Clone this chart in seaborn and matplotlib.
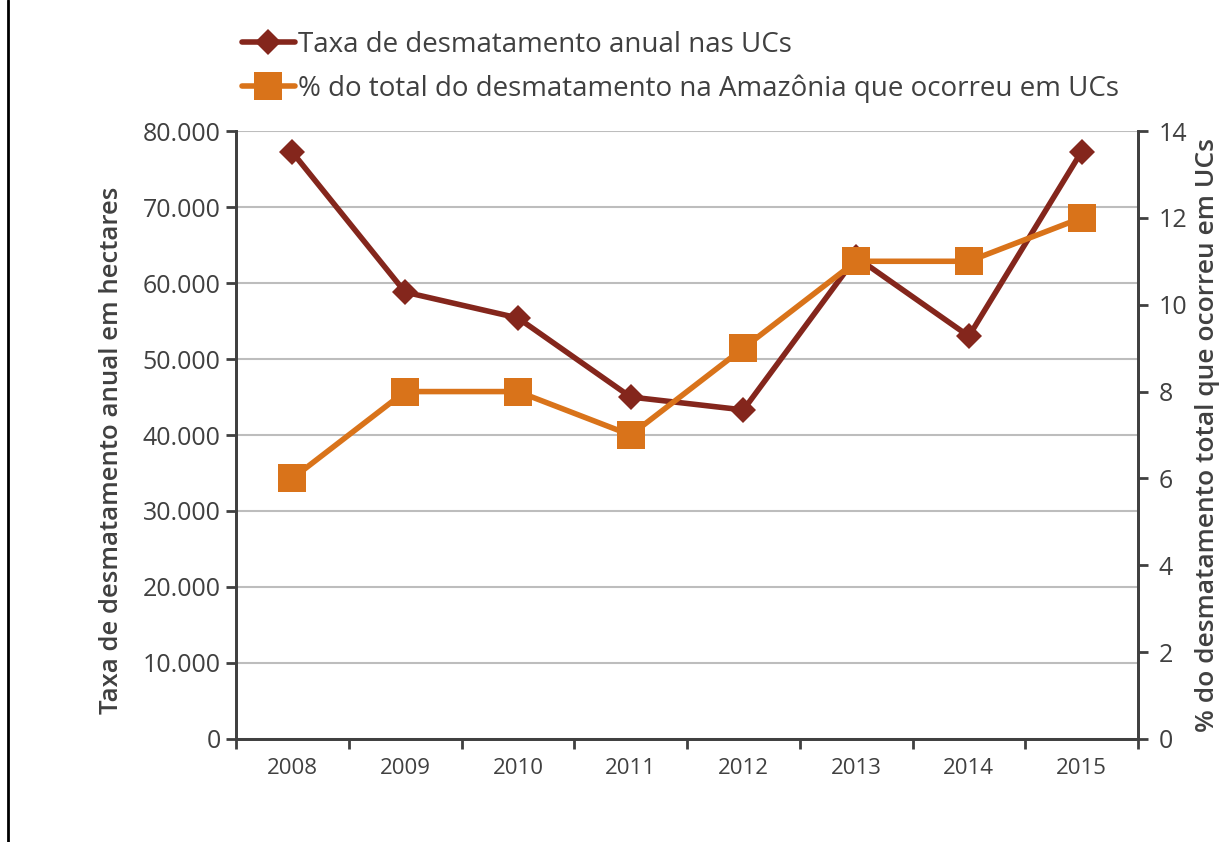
import matplotlib
matplotlib.use("Agg")
import matplotlib.pyplot as plt
import seaborn as sns
import pandas as pd
from matplotlib.lines import Line2D

years = ["2008", "2009", "2010", "2011", "2012", "2013", "2014", "2015"]
taxa_ha = [77200, 58800, 55400, 45000, 43300, 63400, 53000, 77300]
pct_ucs = [6, 8, 8, 7, 9, 11, 11, 12]
left_ticks = [0, 10000, 20000, 30000, 40000, 50000, 60000, 70000, 80000]
left_labels = ["0", "10.000", "20.000", "30.000", "40.000", "50.000", "60.000", "70.000", "80.000"]
right_ticks = [0, 2, 4, 6, 8, 10, 12, 14]

label1 = "Taxa de desmatamento anual nas UCs"
label2 = "% do total do desmatamento na Amazônia que ocorreu em UCs"
ylabel_left = "Taxa de desmatamento anual em hectares"
ylabel_right = "% do desmatamento total que ocorreu em UCs"

df = pd.DataFrame({"ano": years, "taxa": taxa_ha, "pct": pct_ucs})

sns.set_theme(style="white")
plt.rcParams["font.family"] = ["Open Sans", "DejaVu Sans"]

c1 = "#84261c"
c2 = "#d9731a"
txt = "#404040"

fig = plt.figure(figsize=(12.27, 8.42), dpi=100)
ax = fig.add_axes([236/1227, 1-739/842, (1138-236)/1227, (739-131)/842])
ax2 = ax.twinx()

sns.lineplot(data=df, x="ano", y="taxa", ax=ax, color=c1, lw=4, marker="D",
             markersize=13, markeredgewidth=0, sort=False, zorder=3)
sns.lineplot(data=df, x="ano", y="pct", ax=ax2, color=c2, lw=4, marker="s",
             markersize=20, markeredgewidth=0, sort=False, zorder=3)

ax.set_xlim(-0.5, len(years) - 0.5)
ax.set_ylim(0, 80000)
ax2.set_ylim(0, 14)

ax.set_yticks(left_ticks)
ax.set_yticklabels(left_labels)
ax2.set_yticks(right_ticks)
ax2.set_yticklabels([str(t) for t in right_ticks])

ax.set_xticks(range(len(years)))
ax.set_xticklabels(years)
ax.set_xticks([i - 0.5 for i in range(len(years) + 1)], minor=True)
ax.tick_params(axis="x", which="major", length=0, pad=14, labelsize=16, labelcolor=txt)
ax.tick_params(axis="x", which="minor", length=7, width=2, color=txt, bottom=True)
ax.tick_params(axis="y", length=7, width=2, color=txt, labelsize=18, labelcolor=txt, left=True, pad=4)
ax2.tick_params(axis="y", length=7, width=2, color=txt, labelsize=18, labelcolor=txt, right=True, pad=8)

ax.grid(axis="y", color="#bdbdbd", lw=1.5)
ax.set_axisbelow(True)

for a in (ax, ax2):
    for s in ("left", "bottom", "right"):
        a.spines[s].set_visible(True)
        a.spines[s].set_color(txt)
        a.spines[s].set_linewidth(2)
    a.spines["top"].set_visible(False)

ax.set_xlabel("")
ax.set_ylabel(ylabel_left, fontsize=18.5, color=txt, fontweight="semibold")
ax.yaxis.set_label_coords(-0.124, 0.475)
ax2.set_ylabel(ylabel_right, fontsize=19, color=txt, fontweight="semibold")
ax2.yaxis.set_label_coords(1.0635, 0.5)

h1 = Line2D([], [], color=c1, lw=4, marker="D", markersize=13, markeredgewidth=0)
h2 = Line2D([], [], color=c2, lw=4, marker="s", markersize=20, markeredgewidth=0)
fig.legend([h1, h2], [label1, label2], loc="upper left",
           bbox_to_anchor=(217/1227, 1-6/842), frameon=False, fontsize=20,
           handlelength=1.9, handletextpad=0.1, labelspacing=0.55,
           labelcolor=txt)

fig.add_artist(Line2D([8/1227, 8/1227], [0.0, 1.0], color="black", lw=2,
                      transform=fig.transFigure))

fig.savefig("out.png", dpi=100)
